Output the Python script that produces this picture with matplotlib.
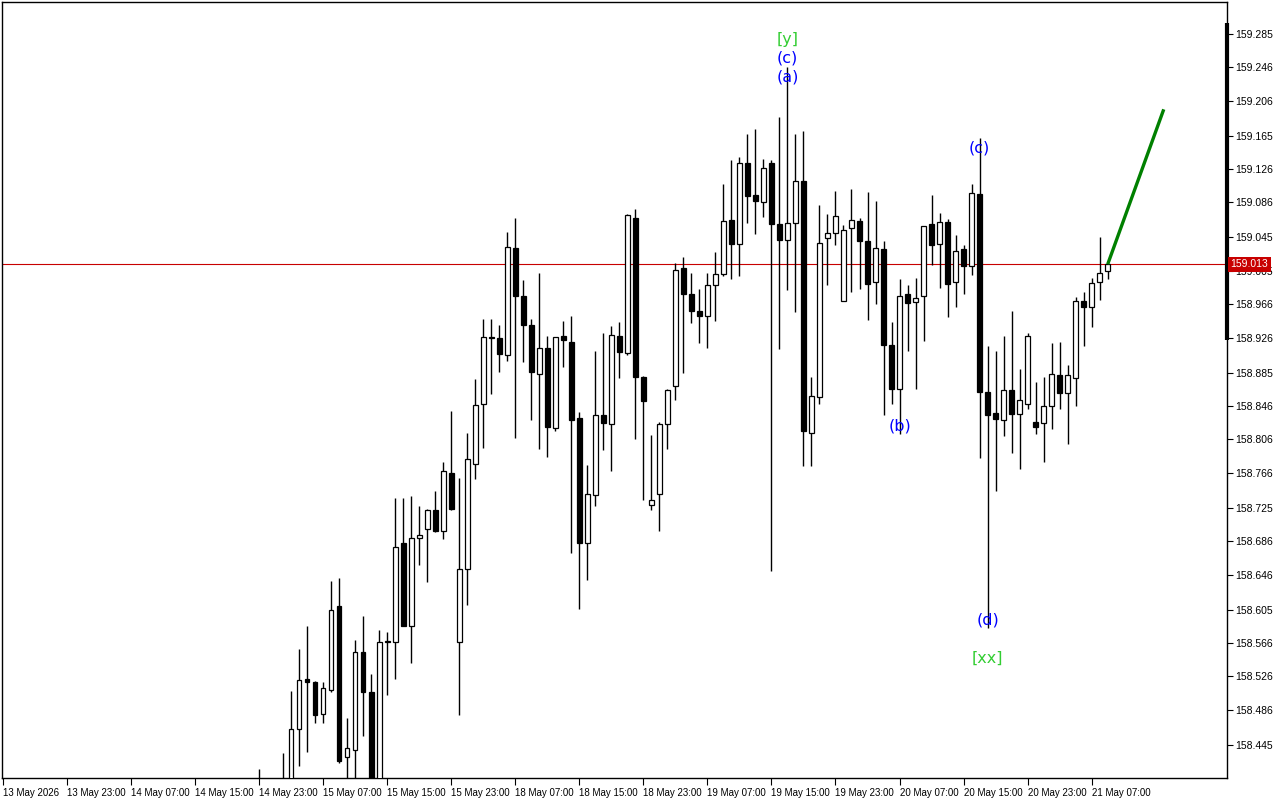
import matplotlib
matplotlib.use("Agg")
import matplotlib.pyplot as plt
import matplotlib.transforms as mtransforms
import numpy as np
import pandas as pd

# ---------------- data ----------------
# hourly bar timeline (weekend gap between 15 May 23:00 and 18 May 00:00)
bar_times = pd.DatetimeIndex(
    list(pd.date_range("2026-05-13 15:00", "2026-05-15 23:00", freq="h"))
    + list(pd.date_range("2026-05-18 00:00", "2026-05-21 23:00", freq="h"))
)

candle_start = "2026-05-14 23:00"
last_axis_label = "2026-05-21 07:00"

opens = [158.392, 158.385, 158.372, 158.388, 158.398, 158.464, 158.523, 158.520, 158.482, 158.510,
         158.609, 158.431, 158.439, 158.555, 158.508, 158.390, 158.567, 158.567, 158.684, 158.586,
         158.690, 158.700, 158.723, 158.698, 158.766, 158.567, 158.653, 158.777, 158.848, 158.927,
         158.926, 158.906, 159.032, 158.976, 158.941, 158.883, 158.914, 158.820, 158.928, 158.921,
         158.831, 158.684, 158.740, 158.835, 158.824, 158.928, 158.908, 159.068, 158.880, 158.729,
         158.741, 158.824, 158.869, 159.008, 158.978, 158.958, 158.952, 158.989, 159.002, 159.065,
         159.037, 159.133, 159.095, 159.087, 159.133, 159.060, 159.042, 159.062, 159.111, 158.814,
         158.856, 159.044, 159.050, 158.969, 159.056, 159.064, 159.040, 158.992, 159.031, 158.918,
         158.865, 158.978, 158.968, 158.975, 159.061, 159.037, 159.063, 158.992, 159.031, 159.011,
         159.096, 158.862, 158.837, 158.829, 158.864, 158.836, 158.848, 158.827, 158.826, 158.845,
         158.882, 158.861, 158.879, 158.969, 158.963, 158.992, 159.005]
highs = [158.417, 158.398, 158.395, 158.436, 158.509, 158.558, 158.585, 158.521, 158.519, 158.639,
         158.642, 158.477, 158.569, 158.597, 158.529, 158.581, 158.579, 158.737, 158.737, 158.739,
         158.727, 158.724, 158.745, 158.779, 158.840, 158.760, 158.814, 158.877, 158.948, 158.948,
         158.941, 159.051, 159.068, 158.994, 158.948, 159.003, 158.928, 158.927, 158.946, 158.952,
         158.838, 158.776, 158.911, 158.932, 158.940, 158.945, 159.072, 159.078, 158.881, 158.811,
         158.827, 158.865, 159.014, 159.021, 159.003, 158.984, 159.003, 159.027, 159.108, 159.136,
         159.140, 159.167, 159.173, 159.137, 159.136, 159.187, 159.246, 159.167, 159.170, 158.880,
         159.083, 159.072, 159.099, 159.059, 159.102, 159.068, 159.098, 159.088, 159.040, 158.945,
         158.996, 158.988, 158.997, 159.058, 159.095, 159.074, 159.066, 159.048, 159.036, 159.108,
         159.162, 158.916, 158.911, 158.928, 158.958, 158.889, 158.932, 158.874, 158.880, 158.920,
         158.921, 158.894, 158.974, 158.980, 158.997, 159.045, 159.015]
lows = [158.360, 158.350, 158.340, 158.370, 158.385, 158.420, 158.437, 158.471, 158.471, 158.508,
        158.424, 158.390, 158.395, 158.456, 158.370, 158.370, 158.504, 158.523, 158.586, 158.542,
        158.658, 158.638, 158.697, 158.688, 158.723, 158.481, 158.610, 158.759, 158.796, 158.860,
        158.886, 158.899, 158.808, 158.898, 158.829, 158.795, 158.785, 158.816, 158.892, 158.672,
        158.606, 158.640, 158.727, 158.794, 158.769, 158.879, 158.906, 158.806, 158.735, 158.723,
        158.698, 158.795, 158.853, 158.885, 158.943, 158.920, 158.914, 158.946, 158.999, 158.996,
        158.999, 159.062, 159.049, 159.069, 158.650, 158.913, 158.983, 158.957, 158.775, 158.775,
        158.848, 158.989, 159.036, 158.969, 158.980, 158.984, 158.947, 158.966, 158.835, 158.848,
        158.812, 158.911, 158.866, 158.922, 159.012, 158.985, 158.951, 158.962, 158.978, 159.000,
        158.784, 158.583, 158.745, 158.810, 158.790, 158.771, 158.842, 158.813, 158.779, 158.818,
        158.842, 158.801, 158.845, 158.916, 158.939, 158.971, 158.996]
closes = [158.385, 158.372, 158.388, 158.398, 158.464, 158.522, 158.519, 158.480, 158.512, 158.605,
          158.426, 158.441, 158.555, 158.508, 158.390, 158.567, 158.568, 158.679, 158.586, 158.690,
          158.693, 158.723, 158.698, 158.769, 158.724, 158.653, 158.783, 158.847, 158.927, 158.926,
          158.907, 159.033, 158.976, 158.941, 158.886, 158.914, 158.821, 158.927, 158.923, 158.829,
          158.684, 158.742, 158.835, 158.825, 158.929, 158.909, 159.071, 158.880, 158.851, 158.735,
          158.824, 158.864, 159.006, 158.978, 158.958, 158.952, 158.988, 159.001, 159.064, 159.037,
          159.133, 159.094, 159.088, 159.127, 159.061, 159.042, 159.062, 159.111, 158.816, 158.857,
          159.038, 159.050, 159.070, 159.053, 159.065, 159.040, 158.990, 159.032, 158.918, 158.866,
          158.975, 158.967, 158.973, 159.058, 159.036, 159.063, 158.990, 159.029, 159.011, 159.097,
          158.862, 158.835, 158.830, 158.864, 158.836, 158.852, 158.928, 158.821, 158.846, 158.883,
          158.861, 158.882, 158.969, 158.963, 158.991, 159.003, 159.013]

current_price = 159.013

# projected wave line
proj_times = ["2026-05-21 09:00", "2026-05-21 16:00"]
proj_prices = [159.013, 159.196]

# wave labels
label_times = ["2026-05-19 17:00", "2026-05-19 17:00", "2026-05-19 17:00",
               "2026-05-20 17:00", "2026-05-20 07:00", "2026-05-20 18:00", "2026-05-20 18:00"]
label_prices = [159.279, 159.257, 159.234, 159.150, 158.822, 158.593, 158.548]
label_texts = ["[y]", "(c)", "(a)", "(c)", "(b)", "(d)", "[xx]"]
label_colors = ["#32cd32", "#0000ff", "#0000ff", "#0000ff", "#0000ff", "#0000ff", "#32cd32"]

y_tick_labels = ["159.285", "159.246", "159.206", "159.165", "159.126", "159.086", "159.045",
                 "159.005", "158.966", "158.926", "158.885", "158.846", "158.806", "158.766",
                 "158.725", "158.686", "158.646", "158.605", "158.566", "158.526", "158.486",
                 "158.445"]

# ---------------- plot ----------------
W, H = 1280, 800
fig = plt.figure(figsize=(W / 100, H / 100), dpi=100)
fig.patch.set_facecolor("white")
ax = fig.add_axes([2 / W, 22 / H, 1225 / W, 776 / H])
ax.set_facecolor("white")

candle_times = bar_times[bar_times >= pd.Timestamp(candle_start)][:len(opens)]
xs = bar_times.get_indexer(candle_times)
o = np.array(opens); hi = np.array(highs); lo = np.array(lows); c = np.array(closes)
up = c >= o

ax.vlines(xs, lo, hi, color="black", linewidth=1.0, zorder=2)
body_bottom = np.minimum(o, c)
body_h = np.maximum(np.abs(c - o), 0.0004)
ax.bar(xs, body_h, bottom=body_bottom, width=0.6,
       color=np.where(up, "white", "black"), edgecolor="black", linewidth=0.9, zorder=3)

# current price line
ax.axhline(current_price, color="#c80000", linewidth=0.8, zorder=1)

# projection
px = bar_times.get_indexer(pd.DatetimeIndex(proj_times))
ax.plot(px, proj_prices, color="#008000", linewidth=2.4, solid_capstyle="butt", zorder=4)

# wave labels
lx = bar_times.get_indexer(pd.DatetimeIndex(label_times))
for x, y, t, col in zip(lx, label_prices, label_texts, label_colors):
    ax.text(x, y, t, color=col, fontsize=11.5, ha="center", va="center",
            family="DejaVu Sans", zorder=5)

ax.set_xlim(-0.1, 152.9)
ax.set_ylim(158.406, 159.3228)

# x ticks every 8 bars, up to the last labelled bar
last_i = bar_times.get_loc(pd.Timestamp(last_axis_label))
xt = np.arange(0, last_i + 1, 8)
xlabels = []
for i in xt:
    t = bar_times[i]
    xlabels.append(t.strftime("%-d %b %Y") if i == 0 else t.strftime("%-d %b %H:%M"))
ax.set_xticks(xt)
ax.set_xticklabels(xlabels, fontsize=7, family="Liberation Sans")
off = mtransforms.ScaledTranslation(1.5 / 72, 0, fig.dpi_scale_trans)
for lab in ax.get_xticklabels():
    lab.set_horizontalalignment("left")
    lab.set_transform(lab.get_transform() + off)
ax.tick_params(axis="x", direction="out", length=5, width=0.8, pad=2, colors="black")

# y ticks on right
ax.yaxis.tick_right()
ax.set_yticks([float(v) for v in y_tick_labels])
ax.set_yticklabels(y_tick_labels, fontsize=7.5, family="Liberation Sans")
ax.tick_params(axis="y", direction="out", length=4, width=0.8, pad=2, colors="black")

for s in ax.spines.values():
    s.set_color("black")
    s.set_linewidth(1.0)

# thick marker on price scale
ax.plot([1, 1], [0.5644, 0.973], transform=ax.transAxes, color="black",
        linewidth=3, clip_on=False, zorder=6, solid_capstyle="butt")

# current price tag
blend = mtransforms.blended_transform_factory(ax.transAxes, ax.transData)
ax.text(1.003, current_price, f"{current_price:.3f}", transform=blend, ha="left", va="center",
        fontsize=7.5, color="white", family="Liberation Sans", zorder=7,
        bbox=dict(facecolor="#c80000", edgecolor="none", pad=1.8), clip_on=False)

fig.savefig("out.png", dpi=100, facecolor="white")
